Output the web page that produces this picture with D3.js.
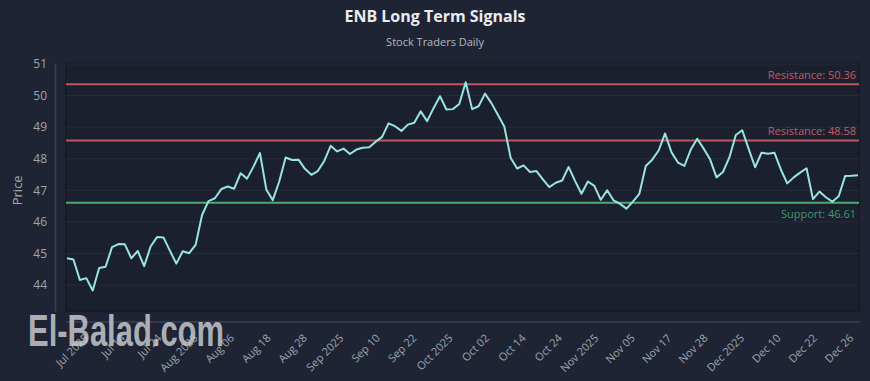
<!DOCTYPE html>
<html>
<head>
<meta charset="utf-8">
<script src="https://cdn.jsdelivr.net/npm/d3@7"></script>
<style>
  html, body { margin: 0; padding: 0; background: #1f2434; }
  svg { display: block; font-family: "Open Sans", sans-serif; }
</style>
</head>
<body>
<div id="chart"></div>
<script>
// closing prices, one per trading day
const price = [
  44.85, 44.81, 44.16, 44.22, 43.83, 44.54, 44.58, 45.20, 45.30, 45.29,
  44.85, 45.08, 44.60, 45.22, 45.52, 45.51, 45.09, 44.68, 45.07, 45.01,
  45.27, 46.22, 46.66, 46.75, 47.04, 47.12, 47.05, 47.54, 47.37, 47.75,
  48.18, 47.02, 46.69, 47.28, 48.04, 47.96, 47.97, 47.68, 47.49, 47.61,
  47.93, 48.41, 48.23, 48.32, 48.15, 48.29, 48.35, 48.36, 48.54, 48.69,
  49.12, 49.03, 48.88, 49.08, 49.14, 49.50, 49.19, 49.60, 49.98, 49.56,
  49.57, 49.73, 50.42, 49.57, 49.66, 50.06, 49.76, 49.39, 49.02, 48.02,
  47.69, 47.79, 47.58, 47.61, 47.35, 47.10, 47.24, 47.31, 47.74, 47.30,
  46.89, 47.28, 47.14, 46.70, 47.00, 46.68, 46.57, 46.42, 46.64, 46.89,
  47.77, 47.97, 48.26, 48.80, 48.20, 47.88, 47.77, 48.29, 48.63, 48.32,
  47.98, 47.41, 47.58, 48.04, 48.75, 48.90, 48.31, 47.73, 48.19, 48.16,
  48.19, 47.66, 47.22, 47.41, 47.56, 47.70, 46.72, 46.96, 46.78, 46.64,
  46.81, 47.45, 47.46, 47.48
];

const tickLabels = [
  "Jul 2025", "Jul 14", "Jul 24", "Aug 2025", "Aug 06", "Aug 18", "Aug 28",
  "Sep 2025", "Sep 10", "Sep 22", "Oct 2025", "Oct 02", "Oct 14", "Oct 24",
  "Nov 2025", "Nov 05", "Nov 17", "Nov 28", "Dec 2025", "Dec 10", "Dec 22", "Dec 26"
];

const yTicks = [44, 45, 46, 47, 48, 49, 50, 51];

const levelNames = ["Resistance", "Resistance", "Support"];
const levelValues = [50.36, 48.58, 46.61];

const width = 870;
const height = 381;
const margin = ({top: 63, right: 11, bottom: 70, left: 66});

const x = d3.scaleLinear().domain([0, price.length - 1]).range([margin.left + 1, width - margin.right - 1]);
const y = d3.scaleLinear().domain([43.18, 51.03]).range([height - margin.bottom, margin.top]);
// tick labels are spread evenly along the bottom
const xTick = d3.scalePoint().domain(tickLabels).range([88, 853]);

const svg = d3.select("#chart").append("svg")
  .attr("width", width)
  .attr("height", height);

svg.append("rect")
  .attr("width", width).attr("height", height)
  .attr("fill", "#1f2434");

// title
svg.append("text")
  .attr("x", 435).attr("y", 22)
  .attr("text-anchor", "middle")
  .attr("fill", "#e9ebef")
  .attr("font-size", 16)
  .attr("font-weight", "bold")
  .text("ENB Long Term Signals");

svg.append("text")
  .attr("x", 435).attr("y", 46)
  .attr("text-anchor", "middle")
  .attr("fill", "#b4b9c2")
  .attr("font-size", 11)
  .text("Stock Traders Daily");

// plot frame
svg.append("rect")
  .attr("x", margin.left).attr("y", margin.top)
  .attr("width", width - margin.left - margin.right)
  .attr("height", height - margin.top - margin.bottom)
  .attr("fill", "#1b202e")
  .attr("stroke", "#161a25")
  .attr("stroke-width", 1.5);

// horizontal grid
svg.append("g")
  .selectAll("line")
  .data(yTicks)
  .join("line")
    .attr("x1", margin.left).attr("x2", width - margin.right)
    .attr("y1", d => y(d)).attr("y2", d => y(d))
    .attr("stroke", "#262c3b")
    .attr("stroke-width", 1);

// y axis
const yAxis = g => g
  .attr("transform", "translate(55,0)")
  .call(d3.axisLeft(y).tickValues(yTicks).tickSize(0).tickPadding(8).tickFormat(d3.format("d")))
  .call(g => g.select(".domain").attr("stroke", "#3a4152").attr("stroke-width", 1.5))
  .call(g => g.selectAll("text").attr("fill", "#9ea4ae").attr("font-size", 12).attr("font-family", "Open Sans"));

svg.append("g").call(yAxis);

svg.append("text")
  .attr("transform", `translate(22,${y(47)}) rotate(-90)`)
  .attr("text-anchor", "middle")
  .attr("fill", "#a3a9b3")
  .attr("font-size", 13)
  .text("Price");

// x axis
const xAxis = g => g
  .attr("transform", "translate(0,322)")
  .call(d3.axisBottom(xTick).tickSize(0).tickSizeOuter(0))
  .call(g => g.select(".domain").remove())
  .call(g => g.selectAll("text")
    .attr("fill", "#9ea4ae")
    .attr("font-size", 11)
    .attr("font-family", "Open Sans")
    .attr("text-anchor", "end")
    .attr("x", 0).attr("y", 0).attr("dy", "0.35em")
    .attr("transform", "translate(-2,14) rotate(-45)"));

svg.append("line")
  .attr("x1", margin.left).attr("x2", width - margin.right + 1)
  .attr("y1", 322).attr("y2", 322)
  .attr("stroke", "#3a4152")
  .attr("stroke-width", 1.5);

svg.append("g").call(xAxis);

// support / resistance levels
const levelColor = i => levelNames[i] === "Support" ? "#4daa78" : "#bd5660";
const labelColor = i => levelNames[i] === "Support" ? "#3f9a69" : "#c65a64";

svg.append("g")
  .selectAll("line")
  .data(levelValues)
  .join("line")
    .attr("x1", margin.left).attr("x2", width - margin.right)
    .attr("y1", d => y(d)).attr("y2", d => y(d))
    .attr("stroke", (d, i) => levelColor(i))
    .attr("stroke-width", 2);

svg.append("g")
  .selectAll("text")
  .data(levelValues)
  .join("text")
    .attr("x", 856)
    .attr("y", (d, i) => levelNames[i] === "Support" ? y(d) + 15 : y(d) - 5)
    .attr("text-anchor", "end")
    .attr("font-size", 11)
    .attr("fill", (d, i) => labelColor(i))
    .text((d, i) => `${levelNames[i]}: ${d.toFixed(2)}`);

// price line
const line = d3.line()
  .x((d, i) => x(i))
  .y(d => y(d));

svg.append("path")
  .attr("fill", "none")
  .attr("stroke", "#98e4e2")
  .attr("stroke-width", 2)
  .attr("stroke-linejoin", "round")
  .attr("d", line(price));

// watermark
svg.append("text")
  .attr("x", 28).attr("y", 346)
  .attr("fill", "#d3d5da")
  .attr("fill-opacity", 0.8)
  .attr("font-size", 44)
  .attr("font-weight", "bold")
  .attr("font-family", "Liberation Sans Narrow, Liberation Sans, sans-serif")
  .attr("textLength", 196)
  .attr("lengthAdjust", "spacingAndGlyphs")
  .text("El-Balad.com");
</script>
</body>
</html>
